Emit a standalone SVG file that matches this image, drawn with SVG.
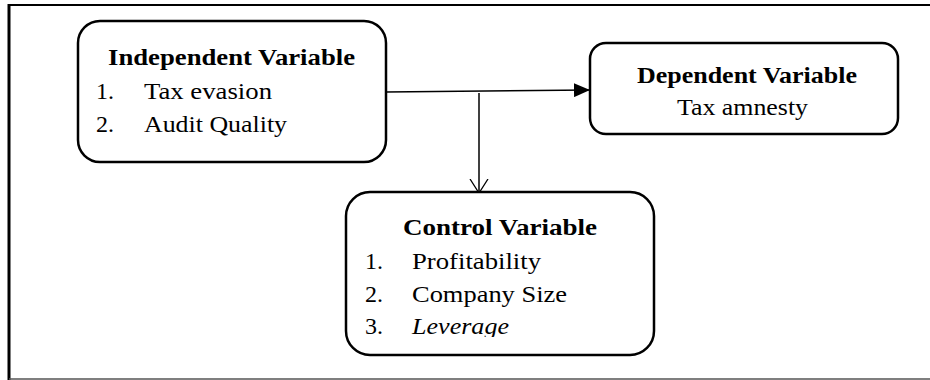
<svg xmlns="http://www.w3.org/2000/svg" width="930" height="380" viewBox="0 0 930 380">
<style>
.box{fill:#fff;stroke:#000;stroke-width:2.5}
.c{fill:none;stroke:#000;stroke-width:1.5}
</style>
<defs>
<marker id="fill" viewBox="0 0 16 14" refX="16" refY="7" markerWidth="16" markerHeight="14" markerUnits="userSpaceOnUse" orient="auto">
<path d="M0,0 L16,7 L0,14 Z" fill="#000"/>
</marker>
<marker id="open" viewBox="0 0 16 20" refX="14" refY="10" markerWidth="16" markerHeight="20" markerUnits="userSpaceOnUse" orient="auto">
<path d="M0,1 L14,10 L0,19" fill="none" stroke="#000" stroke-width="1.3"/>
</marker>
<clipPath id="clipLev"><rect x="400" y="310" width="200" height="27"/></clipPath>
</defs>
<g id="frame">
<line x1="9" y1="5" x2="930" y2="5" stroke="#000" stroke-width="2"/>
<line x1="9" y1="4" x2="9" y2="380" stroke="#000" stroke-width="3"/>
<line x1="9" y1="379" x2="930" y2="379" stroke="#555" stroke-width="1.5"/>
</g>
<g id="connectors">
<path class="c" d="M386,92 L590,90" marker-end="url(#fill)"/>
<path class="c" d="M479,93 L479,193" marker-end="url(#open)"/>
</g>
<g font-family="Liberation Serif, Times New Roman, serif" font-size="24" fill="#000">
<g id="independent">
<rect class="box" x="78" y="21" width="308" height="141" rx="22" ry="22"/>
<text font-weight="bold" x="108" y="65" textLength="247" lengthAdjust="spacingAndGlyphs">Independent Variable</text>
<text x="96" y="99">1.</text>
<text x="144" y="99" textLength="128" lengthAdjust="spacingAndGlyphs">Tax evasion</text>
<text x="96" y="132">2.</text>
<text x="144" y="132" textLength="143" lengthAdjust="spacingAndGlyphs">Audit Quality</text>
</g>
<g id="dependent">
<rect class="box" x="590" y="43" width="308" height="91" rx="16" ry="16"/>
<text font-weight="bold" x="637" y="83" textLength="220" lengthAdjust="spacingAndGlyphs">Dependent Variable</text>
<text x="677" y="115" textLength="131" lengthAdjust="spacingAndGlyphs">Tax amnesty</text>
</g>
<g id="control">
<rect class="box" x="346" y="192" width="308" height="163" rx="24" ry="24"/>
<text font-weight="bold" x="403" y="235" textLength="194" lengthAdjust="spacingAndGlyphs">Control Variable</text>
<text x="365" y="269">1.</text>
<text x="412" y="269" textLength="129" lengthAdjust="spacingAndGlyphs">Profitability</text>
<text x="365" y="302">2.</text>
<text x="412" y="302" textLength="155" lengthAdjust="spacingAndGlyphs">Company Size</text>
<text x="365" y="334">3.</text>
<text font-style="italic" x="412" y="334" textLength="97" lengthAdjust="spacingAndGlyphs" clip-path="url(#clipLev)">Leverage</text>
</g>
</g>
</svg>
